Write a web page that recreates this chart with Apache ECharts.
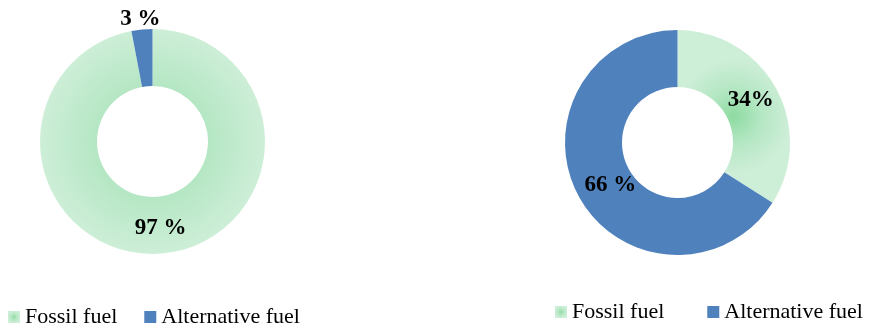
<!DOCTYPE html>
<html>
<head>
<meta charset="utf-8">
<script src="https://cdn.jsdelivr.net/npm/echarts@6/dist/echarts.min.js"></script>
<style>
  html, body { margin: 0; padding: 0; background: #fff; }
  #chart { width: 871px; height: 328px; }
</style>
</head>
<body>
<div id="chart"></div>
<script>
// Fuel mix shares (percent) for the two scenarios
const categories = ['Fossil fuel', 'Alternative fuel'];
const leftShares = [97, 3];
const rightShares = [34, 66];
const leftLabels = ['97 %', '3 %'];
const rightLabels = ['34%', '66 %'];

const FONT = '"Liberation Serif", "Times New Roman", serif';
const blue = '#4f81bd';
const green = {
  type: 'radial', x: 0.5, y: 0.5, r: 0.5,
  colorStops: [
    { offset: 0, color: '#8edba2' },
    { offset: 0.5, color: '#b5e7c4' },
    { offset: 1, color: '#cdeed7' }
  ]
};
const colors = [green, blue];

function buildData(values, labels, offsets) {
  return categories.map((name, i) => ({
    name: name,
    value: values[i],
    itemStyle: { color: colors[i] },
    label: { formatter: labels[i], offset: offsets[i] }
  }));
}

function pieSeries(center, data) {
  return {
    type: 'pie',
    center: center,
    radius: [55.5, 112.5],
    startAngle: 90,
    clockwise: true,
    silent: true,
    label: {
      show: true,
      position: 'inside',
      color: '#000',
      fontFamily: FONT,
      fontWeight: 'bold',
      fontSize: 23
    },
    labelLine: { show: false },
    emphasis: { disabled: true },
    data: data
  };
}

const legendBase = {
  orient: 'horizontal',
  icon: 'rect',
  itemWidth: 12,
  itemHeight: 12,
  selectedMode: false,
  data: categories,
  textStyle: { fontFamily: FONT, fontSize: 22, color: '#000' },
  padding: 0
};

const chart = echarts.init(document.getElementById('chart'), null, { renderer: 'canvas' });
chart.setOption({
  animation: false,
  backgroundColor: '#fff',
  legend: [
    Object.assign({}, legendBase, { left: 8, top: 306, itemGap: 27 }),
    Object.assign({}, legendBase, { left: 555, top: 301, itemGap: 43 })
  ],
  series: [
    pieSeries([152.5, 141.5], buildData(leftShares, leftLabels, [[0, 0], [-4, -36]])),
    pieSeries([677.5, 142.5], buildData(rightShares, rightLabels, [[-3, -1], [9, 1]]))
  ]
});
</script>
</body>
</html>
